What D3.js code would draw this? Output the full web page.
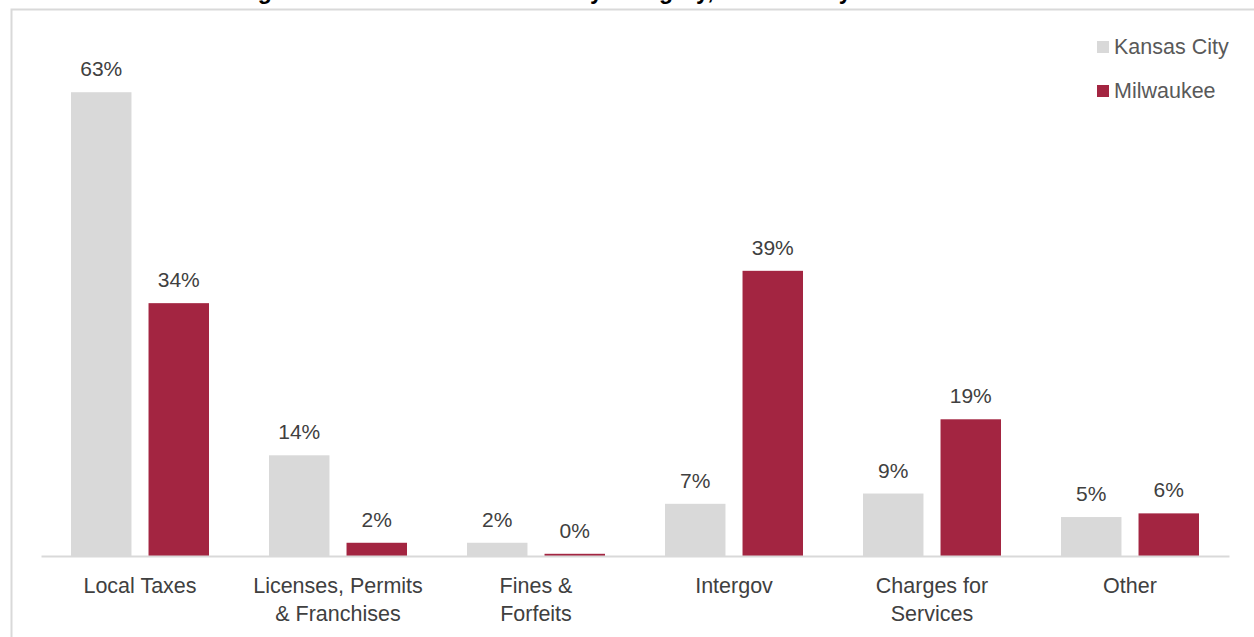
<!DOCTYPE html>
<html>
<head>
<meta charset="utf-8">
<script src="https://cdn.jsdelivr.net/npm/d3@7"></script>
<style>
  html, body { margin: 0; padding: 0; background: #fff; overflow: hidden; }
  svg { display: block; }
  text { font-family: "Liberation Sans", Arial, sans-serif; }
</style>
</head>
<body>
<svg id="chart" width="1254" height="637"></svg>
<script>
// Revenue shares (%) by category
const categories = [
  ["Local Taxes"],
  ["Licenses, Permits", "& Franchises"],
  ["Fines &", "Forfeits"],
  ["Intergov"],
  ["Charges for", "Services"],
  ["Other"]
];
const seriesNames = ["Kansas City", "Milwaukee"];
const kansasCity = [63.1, 13.7, 1.8, 7.1, 8.5, 5.3];
const milwaukee = [34.4, 1.8, 0.3, 38.8, 18.6, 5.8];
const seriesColors = ["#d9d9d9", "#a32541"];
const titleText = "Percentage of General Fund Revenue by Category, Kansas City vs. Milwaukee";

const svg = d3.select("#chart");
const W = 1254, H = 637;

// Outer frame of the chart area
svg.append("rect")
  .attr("x", 11.5).attr("y", 9.5)
  .attr("width", W + 40).attr("height", H + 40)
  .attr("fill", "#fff")
  .attr("stroke", "#d9d9d9").attr("stroke-width", 2);

// Title sits above the frame
svg.append("text")
  .attr("x", 586).attr("y", -1)
  .attr("text-anchor", "middle")
  .attr("font-size", 23).attr("font-weight", "bold")
  .attr("fill", "#000")
  .text(titleText);

const plot = { left: 41, right: 1229, bottom: 556 };

const x0 = d3.scaleBand()
  .domain(d3.range(categories.length))
  .range([plot.left, plot.right])
  .paddingInner(0.303).paddingOuter(0.1515);

const x1 = d3.scaleBand()
  .domain(d3.range(seriesNames.length))
  .range([0, x0.bandwidth()])
  .paddingInner(0.22);

const y = d3.scaleLinear().domain([0, 70]).range([plot.bottom, plot.bottom - 70 * 7.35]);

const data = categories.map((c, i) => ({ cat: c, i, vals: [kansasCity[i], milwaukee[i]] }));
const fmt = v => d3.format(".0f")(v) + "%";

const groups = svg.append("g").selectAll("g")
  .data(data).join("g")
  .attr("transform", d => `translate(${x0(d.i)},0)`);

groups.selectAll("rect")
  .data(d => d.vals.map((v, s) => ({ v, s })))
  .join("rect")
  .attr("x", d => x1(d.s))
  .attr("width", x1.bandwidth())
  .attr("y", d => y(d.v))
  .attr("height", d => y(0) - y(d.v))
  .attr("fill", d => seriesColors[d.s]);

groups.selectAll("text.val")
  .data(d => d.vals.map((v, s) => ({ v, s })))
  .join("text")
  .attr("class", "val")
  .attr("x", d => x1(d.s) + x1.bandwidth() / 2)
  .attr("y", d => y(d.v) - 16)
  .attr("text-anchor", "middle")
  .attr("font-size", 21)
  .attr("fill", "#404040")
  .text(d => fmt(d.v));

// Category axis
const xAxis = d3.axisBottom(d3.scaleBand().domain(d3.range(categories.length)).range([plot.left, plot.right]))
  .tickSize(0).tickFormat("");
const axisG = svg.append("g")
  .attr("transform", `translate(0,${plot.bottom})`)
  .call(xAxis);
axisG.select(".domain").attr("stroke", "#d9d9d9").attr("stroke-width", 2);

axisG.selectAll(".tick").each(function (d) {
  const t = d3.select(this).append("text")
    .attr("text-anchor", "middle")
    .attr("font-size", 21.5)
    .attr("fill", "#404040");
  categories[d].forEach((line, k) => {
    t.append("tspan").attr("x", 0).attr("y", 37 + k * 28).text(line);
  });
});

// Legend
const legend = svg.append("g").selectAll("g")
  .data(seriesNames).join("g")
  .attr("transform", (d, i) => `translate(1097,${41 + i * 44})`);
legend.append("rect")
  .attr("width", 12).attr("height", 12)
  .attr("fill", (d, i) => seriesColors[i]);
legend.append("text")
  .attr("x", 17).attr("y", 13)
  .attr("font-size", 21.5)
  .attr("fill", "#595959")
  .text(d => d);
</script>
</body>
</html>
